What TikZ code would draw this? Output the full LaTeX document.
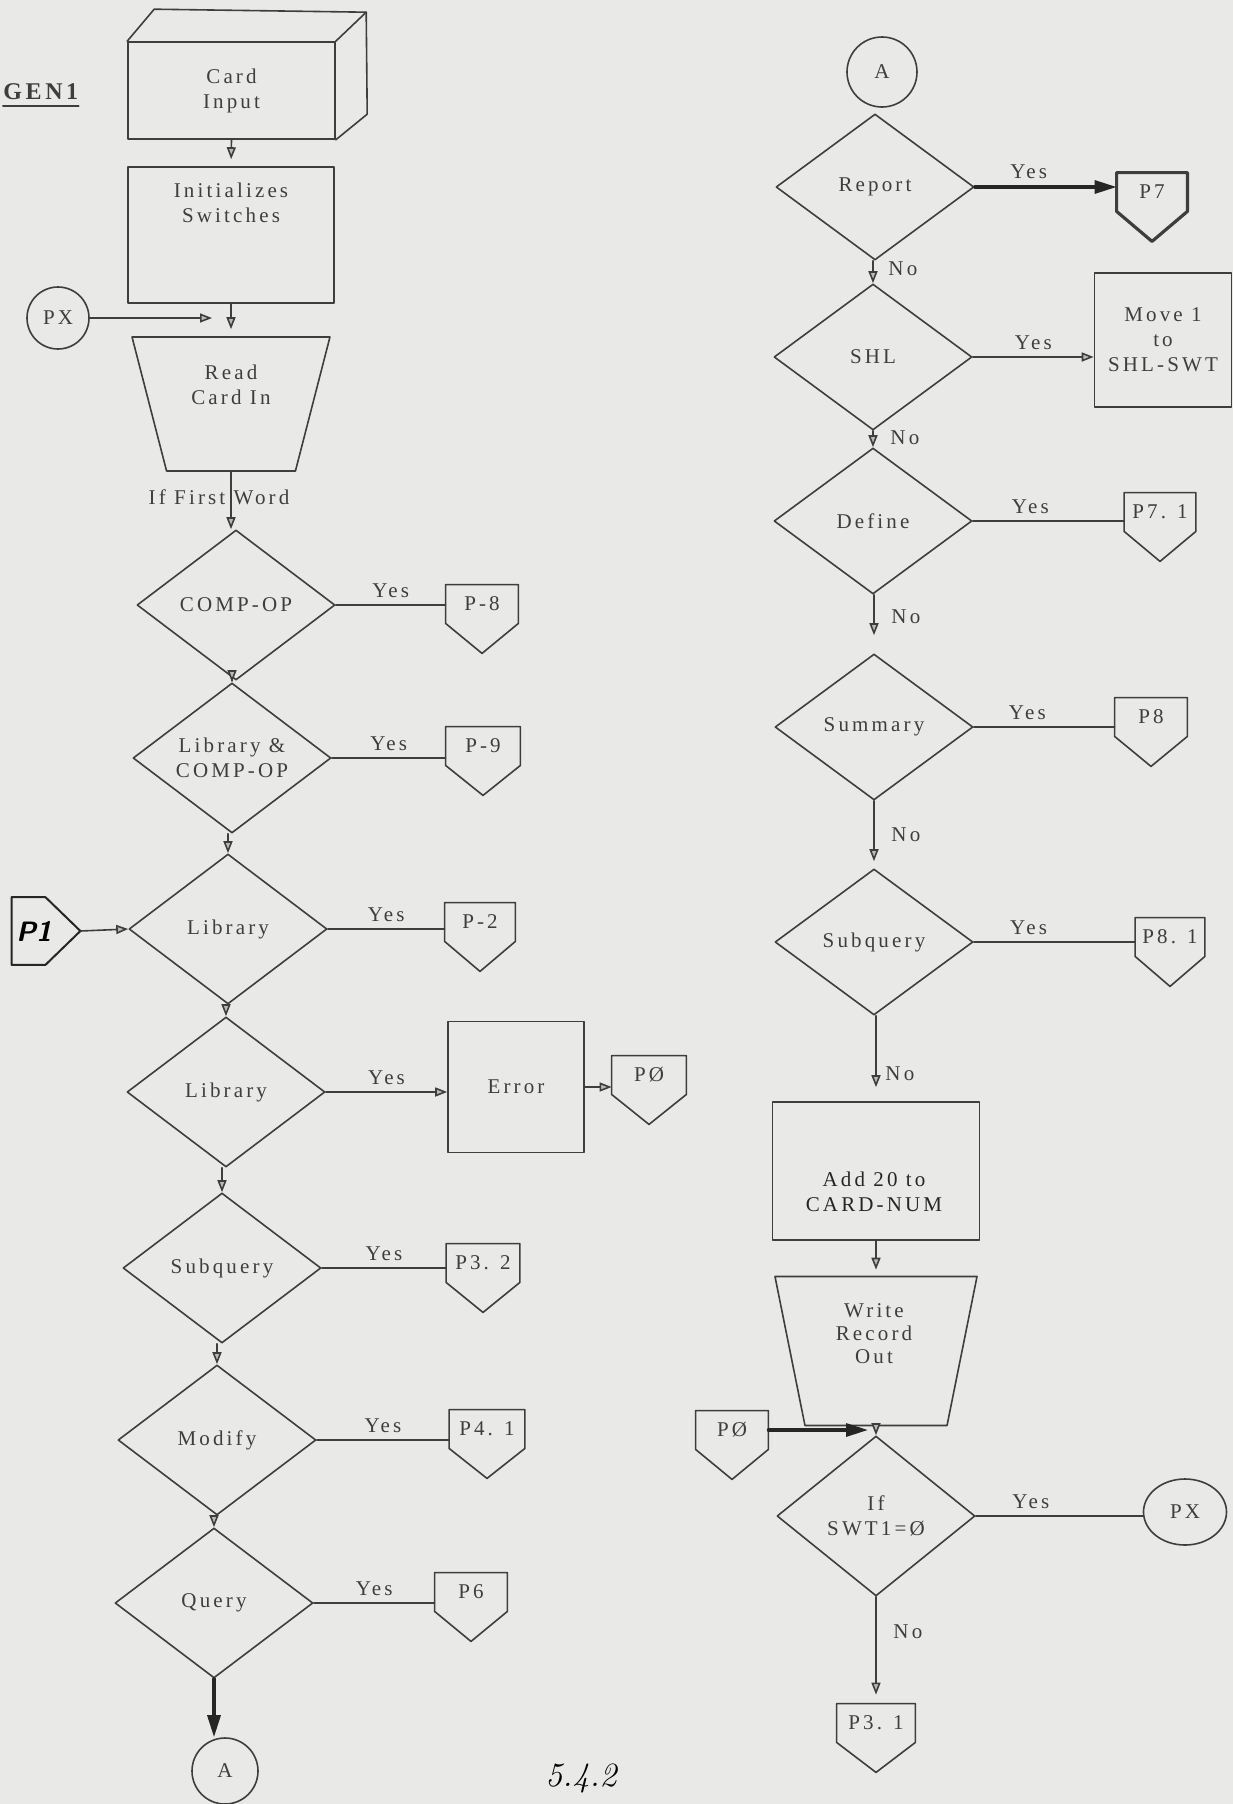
\documentclass[tikz,border=0pt]{standalone}
\usepackage{fontspec}
\newfontfamily\chartfont[LetterSpace=15]{Liberation Serif}
\usetikzlibrary{shapes.geometric,arrows.meta}
\definecolor{paper}{RGB}{233,233,231}
\definecolor{ink}{RGB}{62,62,62}
\tikzset{
	ln/.style={draw=ink, line width=0.8pt},
	flow/.style={ln, -{Triangle[length=6pt, width=4.5pt, fill=gray!55]}},
	heavy/.style={draw=black!85, line width=1.6pt, -{Triangle[length=11pt, width=6.5pt]}},
	decide/.style={diamond, ln, aspect=1.32, inner sep=0pt, minimum width=99pt, minimum height=#1, align=center},
	decide/.default=75pt,
	procbox/.style={rectangle, ln, inner sep=0pt, align=center},
	lbl/.style={align=center, inner sep=1pt},
	conn/.style={circle, ln, inner sep=0pt, minimum size=#1},
	iotrap/.style={trapezium, ln, trapezium angle=#1, trapezium stretches=true, shape border rotate=180, inner sep=0pt},
	offpage/.style 2 args={rectangle, inner sep=0pt, minimum width=#1, minimum height=19pt,
		append after command={\pgfextra{\draw[draw=ink, line width=#2, line join=round]
			(\tikzlastnode.north west) -- (\tikzlastnode.north east) -- (\tikzlastnode.south east)
			-- ([yshift=-15pt]\tikzlastnode.south) -- (\tikzlastnode.south west) -- cycle;}}},
}
\begin{document}
\begin{tikzpicture}[x=0.5pt, y=-0.5pt, line join=round, line cap=round, text=ink,
		font=\chartfont\fontsize{10.5}{12.5}\selectfont]
	\useasboundingbox (0,0) rectangle (1233,1804);
	\fill[paper] (0,0) rectangle (1233,1804);
	
	% title
	\node[font=\chartfont\bfseries\fontsize{12}{14}\selectfont, anchor=west, inner sep=0pt] (ttl) at (3,92) {GEN1};
	\draw[ink, line width=1pt] ([yshift=-3pt]ttl.south west) -- ([yshift=-3pt]ttl.south east);
	
	% card input and set-up
	\node[procbox, minimum width=103.5pt, minimum height=48.5pt] (cin) at (231.5,90.5) {Card\\Input};
	\draw[ln] (cin.north west) -- ++(27,-32) -- ++(212,3) coordinate (cbk) -- ++(1,102) -- (cin.south east);
	\draw[ln] (cin.north east) -- (cbk);
	\node[procbox, minimum width=103pt, minimum height=68pt] (init) at (231,235) {};
	\node[lbl] (initt) at (231,203) {Initializes\\Switches};
	\draw[flow, shorten >=3.5pt] (cin.south) -- (init.north);
	
	% read loop entry
	\node[conn=31pt] (pxl) at (58,318) {PX};
	\coordinate (pxin) at (212,318);
	\draw[flow] (pxl) -- (pxin);
	\node[iotrap=70, minimum width=99pt, minimum height=67pt] (read) at (231,404) {\phantom{M}};
	\node[lbl] (readt) at (231,385) {Read\\Card In};
	\draw[flow, shorten >=3.5pt] (init.south) -- (read.north);
	\node[lbl] (first) at (219,497) {If First Word};
	
	% left column of tests
	\node[decide] (q1) at (236,605) {COMP-OP};
	\node[decide] (q2) at (232,758) {Library \&\\COMP-OP};
	\node[decide] (q3) at (228,929) {Library};
	\node[decide] (q4) at (226,1092) {Library};
	\node[decide] (q5) at (222,1268) {Subquery};
	\node[decide] (q6) at (217,1440) {Modify};
	\node[decide] (q7) at (214,1603) {Query};
	\node[conn=33pt] (aout) at (225,1771) {A};
	\draw[flow] (read.south) -- (read.south |- q1.north);
	\draw[flow] (q1.south -| q2.north) -- (q2.north);
	\draw[flow] (q2.south -| q3.north) -- (q3.north);
	\draw[flow] (q3.south -| q4.north) -- (q4.north);
	\draw[flow] (q4.south -| q5.north) -- (q5.north);
	\draw[flow] (q5.south -| q6.north) -- (q6.north);
	\draw[flow] (q6.south -| q7.north) -- (q7.north);
	\draw[heavy] (q7.south) -- (q7.south |- aout.north);
	
	% exits of the left column
	\node[offpage={36pt}{0.8pt}] (p8) at (482,604) {P-8};
	\node[offpage={37pt}{0.8pt}] (p9) at (483,746) {P-9};
	\node[offpage={35pt}{0.8pt}] (p2) at (480,922) {P-2};
	\node[procbox, minimum width=68pt, minimum height=65.5pt] (err) at (516,1087) {Error};
	\node[offpage={37pt}{0.8pt}] (p0a) at (649,1075) {PØ};
	\node[offpage={36.5pt}{0.8pt}] (p32) at (483,1263) {P3. 2};
	\node[offpage={37.5pt}{0.8pt}] (p41) at (487,1429) {P4. 1};
	\node[offpage={36pt}{0.8pt}] (p6) at (471,1592) {P6};
	\draw[ln] (q1.east) -- (q1.east -| p8.west) node[midway, above] {Yes};
	\draw[ln] (q2.east) -- (q2.east -| p9.west) node[midway, above] {Yes};
	\draw[ln] (q3.east) -- (q3.east -| p2.west) node[midway, above] {Yes};
	\draw[flow] (q4.east) -- (q4.east -| err.west) node[midway, above] {Yes};
	\draw[flow] (err.east) -- (err.east -| p0a.west);
	\draw[ln] (q5.east) -- (q5.east -| p32.west) node[midway, above] {Yes};
	\draw[ln] (q6.east) -- (q6.east -| p41.west) node[midway, above] {Yes};
	\draw[ln] (q7.east) -- (q7.east -| p6.west) node[midway, above] {Yes};
	
	% entry P1
	\node[font=\normalfont\sffamily\bfseries\itshape\fontsize{14}{14}\selectfont, text=black,
		minimum width=22pt, minimum height=33.5pt, inner sep=0pt] (p1) at (34,931) {P1};
	\draw[black!85, line width=1pt] (p1.north west) -- ([xshift=-5.5pt]p1.north east) -- ([xshift=12pt]p1.east)
		-- ([xshift=-5.5pt]p1.south east) -- (p1.south west) -- cycle;
	\draw[flow] ([xshift=12pt]p1.east) -- (q3.west);
	
	% right column
	\node[conn=35pt] (ain) at (882,72) {A};
	\node[decide=73pt] (r1) at (875,187) {Report};
	\node[decide=73pt] (r2) at (873,357) {SHL};
	\node[decide=73pt] (r3) at (873,521) {Define};
	\node[decide=73pt] (r4) at (874,727) {Summary};
	\node[decide=73pt] (r5) at (874,942) {Subquery};
	\node[procbox, minimum width=103.5pt, minimum height=69pt] (add) at (876,1171) {};
	\node[lbl, text=black!85] (addt) at (874,1192) {Add 20 to\\CARD-NUM};
	\node[iotrap=74, minimum width=101pt, minimum height=74.5pt] (wr) at (876,1351) {\phantom{M}};
	\node[lbl, font=\chartfont\fontsize{10.5}{11.5}\selectfont] (wrt) at (874,1334) {Write\\Record\\Out};
	\node[decide=80pt] (r6) at (876,1516) {If\\SWT1=Ø};
	\draw[flow] (r1.south -| r2.north) -- (r2.north) node[pos=.35, right, xshift=4pt] {No};
	\draw[flow] (r2.south -| r3.north) -- (r3.north) node[pos=.4, right, xshift=5pt] {No};
	\draw[flow, shorten >=9pt] (r3.south -| r4.north) -- (r4.north) node[pos=.38, right, xshift=5pt] {No};
	\draw[flow, shorten >=3.5pt] (r4.south -| r5.north) -- (r5.north) node[pos=.5, right, xshift=5pt] {No};
	\draw[flow, shorten >=7pt] (r5.south -| add.north) -- (add.north) node[pos=.68, right, xshift=1pt] {No};
	\draw[flow, shorten >=3pt] (add.south -| wr.north) -- (wr.north);
	\draw[flow] (wr.south -| r6.north) -- (r6.north);
	
	% exits of the right column
	\node[offpage={35pt}{1.6pt}] (p7) at (1152,192) {P7};
	\node[procbox, minimum width=68.5pt, minimum height=67pt] (mv) at (1163,340) {Move 1\\to\\SHL-SWT};
	\node[offpage={35.5pt}{0.8pt}] (p71) at (1160,512) {P7. 1};
	\node[offpage={36pt}{0.8pt}] (p8r) at (1151,717) {P8};
	\node[offpage={34.5pt}{0.8pt}] (p81) at (1170,937) {P8. 1};
	\node[ellipse, ln, inner sep=0pt, minimum width=41.5pt, minimum height=33pt] (pxr) at (1185,1512) {PX};
	\node[offpage={39pt}{0.8pt}] (p31) at (876,1723) {P3. 1};
	\node[offpage={36pt}{0.8pt}] (p0b) at (732,1430) {PØ};
	\coordinate (p0in) at (868,1430);
	\draw[heavy] (r1.east) -- (r1.east -| p7.west) node[pos=.38, above] {Yes};
	\draw[flow] (r2.east) -- (r2.east -| mv.west) node[midway, above] {Yes};
	\draw[ln] (r3.east) -- (r3.east -| p71.west) node[pos=.38, above] {Yes};
	\draw[ln] (r4.east) -- (r4.east -| p8r.west) node[pos=.38, above] {Yes};
	\draw[ln] (r5.east) -- (r5.east -| p81.west) node[pos=.34, above] {Yes};
	\draw[ln] (r6.east) -- (r6.east -| pxr.west) node[pos=.33, above] {Yes};
	\draw[flow, shorten >=4.5pt] (r6.south -| p31.north) -- (p31.north) node[pos=.33, right, xshift=5pt] {No};
	\draw[heavy] (p0b.east) -- (p0in);
	
	% page number
	\node[font=\normalfont\itshape\fontsize{17}{17}\selectfont, text=black] (pg) at (581,1778) {5.4.2};
\end{tikzpicture}
\end{document}
